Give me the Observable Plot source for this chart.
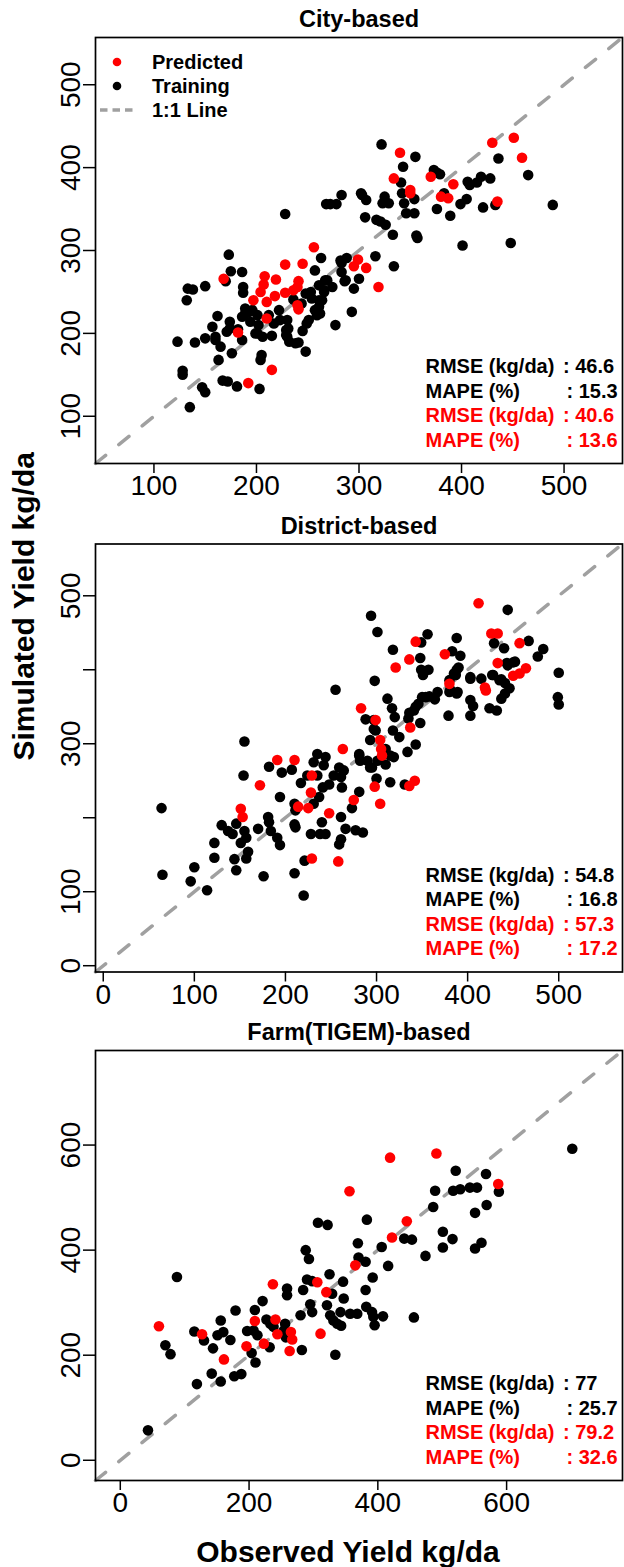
<!DOCTYPE html>
<html><head><meta charset="utf-8">
<script src="https://cdn.jsdelivr.net/npm/d3@7"></script>
<script src="https://cdn.jsdelivr.net/npm/@observablehq/plot@0.6"></script>
<style>
html,body{margin:0;padding:0;background:#fff;}
#chart svg{display:block;}
</style></head><body><div id="chart"></div>
<script>
const FONT = "'Liberation Sans', Arial, Helvetica, sans-serif";

// ---------- data: [observed, simulated] ----------
const cityTraining = [[228,344],[173,295],[263,291],[175,275],[186,274],[170,263],[133,254],[138,253],[150,257],[187,256],[187,249],[132,240],[123,190],[140,189],[150,194],[157,208],[162,221],[160,196],[165,184],[174,214],[171,202],[176,176],[163,168],[128,155],[128,150],[147,135],[150,129],[135,111],[167,143],[172,142],[181,136],[203,133],[205,174],[204,168],[189,230],[189,224],[196,228],[194,214],[201,222],[202,210],[201,200],[206,196],[215,197],[217,212],[222,228],[223,216],[230,216],[231,206],[230,196],[232,190],[238,188],[241,189],[248,178],[249,212],[251,216],[257,228],[261,232],[254,242],[264,240],[266,252],[267,264],[274,256],[261,258],[257,276],[253,250],[248,248],[259,222],[277,210],[287,264],[295,254],[300,266],[293,226],[282,288],[288,291],[283,274],[229,204],[229,198],[160,192],[174,206],[316,293],[334,281],[333,319],[321,335],[306,340],[303,367],[307,361],[283,367],[272,356],[278,356],[268,356],[322,428],[343,401],[355,413],[341,382],[342,369],[354,362],[344,357],[325,365],[329,357],[354,345],[346,345],[317,337],[356,318],[357,315],[373,397],[379,392],[383,369],[376,350],[389,342],[399,356],[405,362],[401,306],[406,383],[408,379],[415,382],[419,389],[428,387],[421,352],[436,411],[433,355],[448,309],[465,391],[489,355],[376,394],[326,331],[302,369],[323,357],[269,264],[266,250],[261,240],[262,224],[286,263],[283,285],[245,203],[212,222],[186,220],[182,205],[236,241],[244,236],[186,192],[199,200],[193,226]];
const cityPredicted = [[168,266],[182,201],[192,140],[197,240],[204,250],[208,269],[207,259],[210,238],[210,218],[215,156],[218,245],[219,265],[228,283],[228,249],[236,252],[241,263],[240,256],[245,284],[240,234],[241,229],[256,304],[295,281],[299,289],[307,279],[319,256],[334,387],[340,418],[350,373],[350,369],[370,389],[380,365],[387,363],[392,380],[430,430],[435,359],[451,436],[459,412]];

const districtTraining = [[64,213],[65,123],[100,133],[96,114],[114,102],[122,166],[122,146],[130,190],[137,182],[142,178],[146,192],[155,182],[157,173],[151,166],[159,154],[157,145],[144,144],[146,129],[176,121],[170,185],[181,201],[182,194],[184,182],[191,173],[194,163],[194,228],[182,269],[196,261],[207,265],[155,303],[154,257],[217,247],[210,219],[211,210],[210,191],[211,187],[221,142],[210,125],[220,95],[224,257],[235,257],[228,178],[238,178],[244,178],[240,194],[235,286],[244,282],[231,275],[242,271],[241,241],[248,245],[237,228],[231,219],[259,268],[264,264],[253,257],[261,255],[262,241],[261,201],[261,171],[259,164],[266,185],[277,183],[285,180],[273,213],[281,235],[281,284],[290,277],[295,268],[288,333],[293,305],[297,320],[255,373],[298,385],[444,481],[294,473],[301,451],[356,448],[349,437],[318,427],[348,416],[388,443],[429,436],[440,429],[467,439],[383,425],[392,419],[443,409],[452,411],[450,410],[444,406],[483,428],[477,418],[500,396],[499,363],[500,353],[427,393],[437,387],[441,382],[446,375],[441,368],[437,361],[415,388],[403,390],[424,348],[432,345],[403,359],[406,351],[403,338],[388,400],[390,403],[387,393],[381,373],[388,368],[379,338],[349,400],[357,400],[351,393],[367,370],[358,364],[350,363],[346,354],[343,350],[348,328],[312,361],[317,348],[320,336],[336,342],[341,345],[335,334],[325,309],[318,318],[297,332],[299,318],[310,293],[315,284],[319,282],[301,277],[293,268],[310,272],[282,277],[334,289],[343,299],[331,245],[315,248],[300,253],[281,286],[385,395],[380,386],[389,370],[380,370],[364,360],[354,363],[403,388],[428,393],[435,386]];
const districtPredicted = [[412,490],[426,449],[433,449],[343,438],[457,436],[375,421],[336,414],[321,403],[433,409],[450,392],[457,395],[464,402],[419,376],[420,372],[380,381],[283,348],[299,332],[337,322],[304,305],[305,293],[306,284],[263,293],[191,278],[210,278],[172,244],[229,257],[228,234],[214,215],[225,213],[151,212],[153,201],[248,206],[275,224],[298,242],[304,219],[342,250],[336,243],[229,145],[258,141]];

const farmTraining = [[43,57],[88,349],[70,219],[78,202],[115,245],[119,145],[130,228],[142,165],[144,213],[156,150],[151,238],[160,244],[156,266],[171,229],[179,285],[177,160],[188,164],[197,246],[207,247],[213,238],[204,204],[210,186],[209,286],[221,303],[227,268],[233,260],[238,254],[232,215],[256,260],[254,247],[257,234],[259,327],[259,314],[282,210],[280,276],[284,324],[288,400],[293,383],[290,344],[298,341],[295,297],[298,282],[307,452],[322,448],[321,295],[326,276],[331,266],[337,260],[343,256],[334,201],[325,354],[329,317],[347,308],[346,340],[342,282],[357,279],[368,279],[382,292],[391,282],[393,273],[395,257],[408,274],[381,324],[392,348],[369,413],[370,386],[381,378],[383,458],[416,370],[406,406],[441,422],[453,420],[456,272],[474,389],[486,482],[489,513],[501,435],[501,405],[516,421],[517,513],[528,516],[543,519],[554,519],[551,471],[551,403],[561,414],[569,486],[568,545],[521,551],[588,511],[702,593]];
const farmPredicted = [[60,255],[127,240],[161,192],[196,217],[209,265],[223,222],[237,335],[241,268],[244,240],[263,208],[265,244],[267,230],[306,339],[311,241],[320,320],[356,512],[365,371],[419,576],[422,424],[445,455],[491,584],[587,526]];

// ---------- titles, axes, ticks ----------
const panelTitles = ["City-based", "District-based", "Farm(TIGEM)-based"];
const cityDomain = [43, 557];
const districtDomain = [-8.5, 570];
const farmDomain = [-38.5, 780];
const cityXTicks = [100, 200, 300, 400, 500];
const cityYTicks = [100, 200, 300, 400, 500];
const cityYLabels = ["100", "200", "300", "400", "500"];
const districtXTicks = [0, 100, 200, 300, 400, 500];
const districtYTicks = [0, 100, 200, 300, 400, 500];
const districtYLabels = ["0", "100", "", "300", "", "500"];
const farmXTicks = [0, 200, 400, 600];
const farmYTicks = [0, 200, 400, 600];
const farmYLabels = ["0", "200", "400", "600"];
const xAxisTitle = "Observed Yield kg/da";
const yAxisTitle = "Simulated Yield kg/da";

// ---------- accuracy statistics ----------
const statNames = ["RMSE (kg/da)", "MAPE (%)"];
const cityStats = {training: [46.6, 15.3], predicted: [40.6, 13.6]};
const districtStats = {training: [54.8, 16.8], predicted: [57.3, 17.2]};
const farmStats = {training: [77, 25.7], predicted: [79.2, 32.6]};

// ---------- legend ----------
const legendLabels = ["Predicted", "Training", "1:1 Line"];

const RED = "#ff0000", LINEGRAY = "#a0a0a0";

function legendMark(index, scales, values, dims) {
  const g = d3.create("svg:g")
    .attr("font-family", FONT).attr("font-weight", "bold").attr("font-size", 20)
    .attr("text-anchor", "start");
  const x0 = dims.marginLeft, y0 = dims.marginTop;
  legendLabels.forEach((label, i) => {
    const cy = y0 + 25 + i * 24;
    if (i < 2) {
      g.append("circle").attr("cx", x0 + 22).attr("cy", cy).attr("r", 4.3)
        .attr("fill", i === 0 ? RED : "black");
    } else {
      g.append("line").attr("x1", x0 + 5).attr("x2", x0 + 40).attr("y1", cy).attr("y2", cy)
        .attr("stroke", LINEGRAY).attr("stroke-width", 3.5).attr("stroke-dasharray", "7.5,5");
    }
    g.append("text").attr("x", x0 + 57).attr("y", cy).attr("dy", "0.36em")
      .attr("text-anchor", "start").attr("fill", "black").text(label);
  });
  return g.node();
}

function statMarks(stats) {
  const rows = [
    {name: statNames[0], value: stats.training[0], color: "black", dy: -96.5, colon: 467.5},
    {name: statNames[1], value: stats.training[1], color: "black", dy: -72, colon: 471},
    {name: statNames[0], value: stats.predicted[0], color: RED, dy: -47.5, colon: 467.5},
    {name: statNames[1], value: stats.predicted[1], color: RED, dy: -23, colon: 471}
  ];
  const common = {frameAnchor: "bottom-left", textAnchor: "start", fontSize: 20, fontWeight: "bold", lineAnchor: "middle"};
  return rows.flatMap(r => [
    Plot.text([r.name], {...common, fill: r.color, dx: 330, dy: r.dy}),
    Plot.text([": " + r.value], {...common, fill: r.color, dx: r.colon, dy: r.dy})
  ]);
}

function panel(p) {
  const marks = [
    Plot.line(p.domain, {x: d => d, y: d => d, stroke: LINEGRAY, strokeWidth: 3.5,
      strokeDasharray: "13,17", strokeLinecap: "round"}),
    Plot.dot(p.training, {x: d => d[0], y: d => d[1], r: 5.3, fill: "black"}),
    Plot.dot(p.predicted, {x: d => d[0], y: d => d[1], r: 5.3, fill: RED}),
    Plot.frame({stroke: "black", strokeWidth: 1.7}),
    Plot.axisX({ticks: p.xTicks, tickSize: 10, tickPadding: 2, fontSize: 28, strokeWidth: 1.5, label: null}),
    Plot.axisY({ticks: p.yTicks, tickSize: 12, tickPadding: 3.5, tickRotate: -90, fontSize: 28,
      strokeWidth: 1.5, label: null, tickFormat: (d, i) => p.yLabels[i]}),
    Plot.text([p.title], {frameAnchor: "top", dy: -18, fontSize: 23.5, fontWeight: "bold", lineAnchor: "middle"}),
    ...statMarks(p.stats)
  ];
  if (p.legend) marks.push(legendMark);
  if (p.yTitle) marks.push(Plot.text([yAxisTitle], {frameAnchor: "left", dx: -71, dy: 2.5, rotate: -90,
    fontSize: 30, fontWeight: "bold", lineAnchor: "middle"}));
  if (p.xTitle) marks.push(Plot.text([xAxisTitle], {frameAnchor: "bottom", dx: -11, dy: 71.5,
    fontSize: 30, fontWeight: "bold", lineAnchor: "middle"}));
  return Plot.plot({
    width: 624, height: p.height,
    marginTop: p.marginTop, marginBottom: p.marginBottom, marginLeft: 95, marginRight: 2,
    x: {domain: p.domain}, y: {domain: p.domain},
    style: {fontFamily: FONT, background: "white", color: "black", overflow: "visible"},
    marks
  });
}

const panels = [
  {title: panelTitles[0], training: cityTraining, predicted: cityPredicted, domain: cityDomain,
   xTicks: cityXTicks, yTicks: cityYTicks, yLabels: cityYLabels, stats: cityStats,
   height: 507, marginTop: 37, marginBottom: 44, legend: true},
  {title: panelTitles[1], training: districtTraining, predicted: districtPredicted, domain: districtDomain,
   xTicks: districtXTicks, yTicks: districtYTicks, yLabels: districtYLabels, stats: districtStats,
   height: 507, marginTop: 36.5, marginBottom: 42.5, yTitle: true},
  {title: panelTitles[2], training: farmTraining, predicted: farmPredicted, domain: farmDomain,
   xTicks: farmXTicks, yTicks: farmYTicks, yLabels: farmYLabels, stats: farmStats,
   height: 553, marginTop: 36, marginBottom: 87, xTitle: true}
];

const root = document.getElementById("chart");
panels.forEach(p => root.appendChild(panel(p)));
</script></body></html>
